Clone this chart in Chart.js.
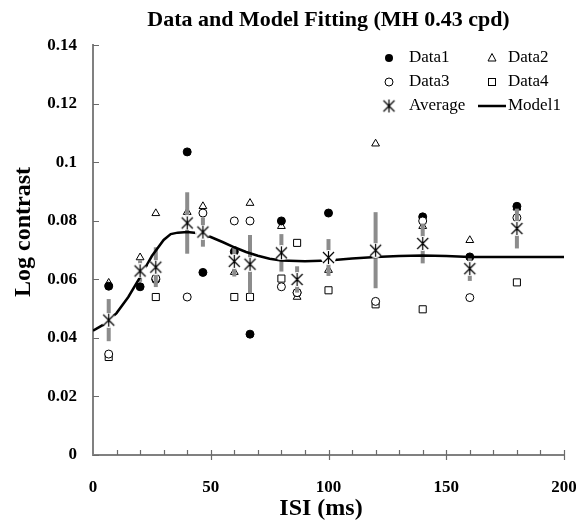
<!DOCTYPE html>
<html>
<head>
<meta charset="utf-8">
<script src="https://cdn.jsdelivr.net/npm/chart.js@4.4.0/dist/chart.umd.min.js"></script>
<style>
  body { margin: 0; background: #fff; }
</style>
</head>
<body>
<canvas id="c" width="576" height="520"></canvas>
<script>
// ISI values (ms) where the data were taken
const isi = [6.67, 20, 26.67, 40, 46.67, 60, 66.67, 80, 86.67, 100, 120, 140, 160, 180];

const data1 = [0.0577, 0.0575, 0.0600, 0.1036, 0.0624, 0.0695, 0.0413, 0.0800, 0.0555, 0.0827, 0.0696, 0.0814, 0.0677, 0.0850];
const data2 = [0.0588, 0.0675, 0.0826, 0.0830, 0.0850, 0.0625, 0.0861, 0.0782, 0.0540, 0.0632, 0.1064, 0.0782, 0.0734, 0.0845];
const data3 = [0.0345, 0.0629, 0.0604, 0.0540, 0.0827, 0.0800, 0.0800, 0.0575, 0.0555, 0.0678, 0.0525, 0.0800, 0.0538, 0.0811];
const data4 = [0.0335, 0.0629, 0.0540, 0.0790, 0.0762, 0.0540, 0.0540, 0.0603, 0.0725, 0.0563, 0.0515, 0.0498, 0.0637, 0.0590];

const average = [0.0461, 0.0629, 0.0642, 0.0793, 0.0762, 0.0662, 0.0652, 0.0691, 0.0600, 0.0675, 0.0700, 0.0723, 0.0637, 0.0774];
const avgError = [0.0072, 0.0037, 0.0068, 0.0105, 0.0050, 0.0052, 0.0100, 0.0064, 0.0045, 0.0063, 0.0130, 0.0068, 0.0042, 0.0068];

// model curve
const modelX = [0, 5, 10, 15, 20, 25, 30, 33, 36, 40, 45, 50, 55, 60, 65, 70, 75, 80, 90, 100, 110, 120, 130, 140, 150, 160, 170, 180, 190, 200];
const modelY = [0.0425, 0.0448, 0.0485, 0.0540, 0.0608, 0.0680, 0.0735, 0.0755, 0.0760, 0.0762, 0.0758, 0.0745, 0.0728, 0.0710, 0.0694, 0.0681, 0.0671, 0.0665, 0.0662, 0.0665, 0.0672, 0.0677, 0.0680, 0.0682, 0.0680, 0.0677, 0.0677, 0.0677, 0.0677, 0.0677];

const xTicks = [0, 50, 100, 150, 200];
const yTicks = [0, 0.02, 0.04, 0.06, 0.08, 0.1, 0.12, 0.14];

const serif = "'Liberation Serif', 'Times New Roman', serif";
Chart.defaults.font.family = serif;
Chart.defaults.color = '#000';

const pts = arr => arr.map((v, i) => ({x: isi[i], y: v}));

function makeAsterisk(size) {
    const c = document.createElement('canvas');
    c.width = size;
    c.height = size;
    const g = c.getContext('2d');
    const m = size / 2;
    g.fillStyle = '#fff';
    g.beginPath();
    g.arc(m, m, m, 0, Math.PI * 2);
    g.fill();
    g.strokeStyle = '#000';
    g.lineWidth = 1.2;
    const r = m - 1, d = r * 0.85;
    g.beginPath();
    g.moveTo(m, m - r); g.lineTo(m, m + r);
    g.moveTo(m - d, m - d); g.lineTo(m + d, m + d);
    g.moveTo(m + d, m - d); g.lineTo(m - d, m + d);
    g.stroke();
    return c;
}
const asterisk = makeAsterisk(15);

// error bars under the model line
const errorBars = {
    id: 'errorBars',
    beforeDatasetDraw(chart, args) {
        if (args.index !== 1) return;
        const {ctx, scales: {x, y}} = chart;
        ctx.save();
        ctx.strokeStyle = '#8c8c8c';
        ctx.lineWidth = 4;
        isi.forEach((v, i) => {
            const px = x.getPixelForValue(v);
            ctx.beginPath();
            ctx.moveTo(px, y.getPixelForValue(average[i] + avgError[i]));
            ctx.lineTo(px, y.getPixelForValue(average[i] - avgError[i]));
            ctx.stroke();
        });
        ctx.restore();
    }
};

// tick marks (inside for y and minor x, crossing for major x)
const tickMarks = {
    id: 'tickMarks',
    afterDatasetsDraw(chart) {
        const {ctx, chartArea: a, scales: {x, y}} = chart;
        ctx.save();
        ctx.strokeStyle = '#6a6a6a';
        ctx.lineWidth = 1.2;
        ctx.beginPath();
        yTicks.forEach(v => {
            const py = Math.round(y.getPixelForValue(v)) + 0.5;
            ctx.moveTo(a.left, py);
            ctx.lineTo(a.left + 6, py);
        });
        for (let v = 10; v <= 200; v += 10) {
            const px = Math.round(x.getPixelForValue(v)) + 0.5;
            if (v % 50 === 0) {
                ctx.moveTo(px, a.bottom - 5);
                ctx.lineTo(px, a.bottom + 5);
            } else {
                ctx.moveTo(px, a.bottom);
                ctx.lineTo(px, a.bottom - 5);
            }
        }
        ctx.stroke();
        ctx.restore();
    }
};

// axis titles and legend box
const extras = {
    id: 'extras',
    afterDraw(chart) {
        const {ctx} = chart;
        ctx.save();
        ctx.fillStyle = '#000';
        ctx.font = 'bold 24px ' + serif;
        ctx.textAlign = 'center';
        ctx.textBaseline = 'middle';
        ctx.fillText('ISI (ms)', 321, 509);
        ctx.translate(24, 232);
        ctx.rotate(-Math.PI / 2);
        ctx.fillText('Log contrast', 0, 0);
        ctx.restore();

        ctx.save();
        ctx.font = '17px ' + serif;
        ctx.textBaseline = 'middle';
        ctx.fillStyle = '#000';
        ctx.strokeStyle = '#000';
        ctx.lineWidth = 1;
        const c1 = 389, c2 = 492, r1 = 58, r2 = 82, r3 = 106;
        // Data1
        ctx.beginPath(); ctx.arc(c1, r1, 4, 0, Math.PI * 2); ctx.fill();
        ctx.fillText('Data1', 409, r1);
        // Data2
        ctx.beginPath();
        ctx.moveTo(c2, r1 - 4.5); ctx.lineTo(c2 + 4, r1 + 3); ctx.lineTo(c2 - 4, r1 + 3); ctx.closePath();
        ctx.stroke();
        ctx.fillText('Data2', 508, r1);
        // Data3
        ctx.beginPath(); ctx.arc(c1, r2, 4, 0, Math.PI * 2); ctx.stroke();
        ctx.fillText('Data3', 409, r2);
        // Data4
        ctx.strokeRect(c2 - 3.5, r2 - 3.5, 7, 7);
        ctx.fillText('Data4', 508, r2);
        // Average
        ctx.drawImage(asterisk, c1 - 7.5, r3 - 7.5);
        ctx.fillText('Average', 409, r3);
        // Model1
        ctx.lineWidth = 2.5;
        ctx.beginPath(); ctx.moveTo(478, r3); ctx.lineTo(506, r3); ctx.stroke();
        ctx.fillText('Model1', 508, r3);
        ctx.restore();
    }
};

const markerBase = {type: 'scatter', borderColor: '#000', borderWidth: 1, pointBackgroundColor: '#fff'};

new Chart(document.getElementById('c'), {
    type: 'scatter',
    data: {
        datasets: [
            {label: 'Average', data: pts(average), pointStyle: asterisk, pointRadius: 7, order: 0},
            {label: 'Model1', type: 'line', data: modelX.map((v, i) => ({x: v, y: modelY[i]})),
                borderColor: '#000', borderWidth: 2.5, pointRadius: 0, fill: false, tension: 0, order: 1},
            {...markerBase, label: 'Data1', data: pts(data1), pointStyle: 'circle', pointRadius: 4,
                pointBackgroundColor: '#000', order: 3},
            {...markerBase, label: 'Data2', data: pts(data2), pointStyle: 'triangle', pointRadius: 4.5, order: 5},
            {...markerBase, label: 'Data3', data: pts(data3), pointStyle: 'circle', pointRadius: 4, order: 2},
            {...markerBase, label: 'Data4', data: pts(data4), pointStyle: 'rect', pointRadius: 5, order: 4}
        ]
    },
    options: {
        responsive: false,
        animation: false,
        layout: {padding: {left: 0, right: 12, bottom: 0, top: 0}},
        plugins: {
            legend: {display: false},
            tooltip: {enabled: false},
            title: {
                display: true,
                text: 'Data and Model Fitting (MH 0.43 cpd)',
                fullSize: false,
                font: {size: 22, weight: 'bold'},
                color: '#000',
                padding: {top: 7, bottom: 12}
            }
        },
        scales: {
            x: {
                type: 'linear',
                min: 0,
                max: 200,
                grid: {display: false, drawTicks: false},
                border: {display: true, color: '#808080', width: 2},
                ticks: {
                    stepSize: 10,
                    autoSkip: false,
                    maxRotation: 0,
                    padding: 22,
                    font: {size: 17, weight: 'bold'},
                    callback: v => xTicks.includes(v) ? String(v) : ''
                },
                afterFit: s => { s.height = 65; s.paddingLeft = 0; s.paddingRight = 0; }
            },
            y: {
                min: 0,
                max: 0.14,
                grid: {display: false, drawTicks: false},
                border: {display: true, color: '#808080', width: 2},
                ticks: {
                    stepSize: 0.02,
                    padding: 16,
                    font: {size: 17, weight: 'bold'},
                    callback: v => String(+v.toFixed(2))
                },
                afterFit: s => { s.width = 93; s.paddingTop = 0; s.paddingBottom = 0; }
            }
        }
    },
    plugins: [errorBars, tickMarks, extras]
});
</script>
</body>
</html>
